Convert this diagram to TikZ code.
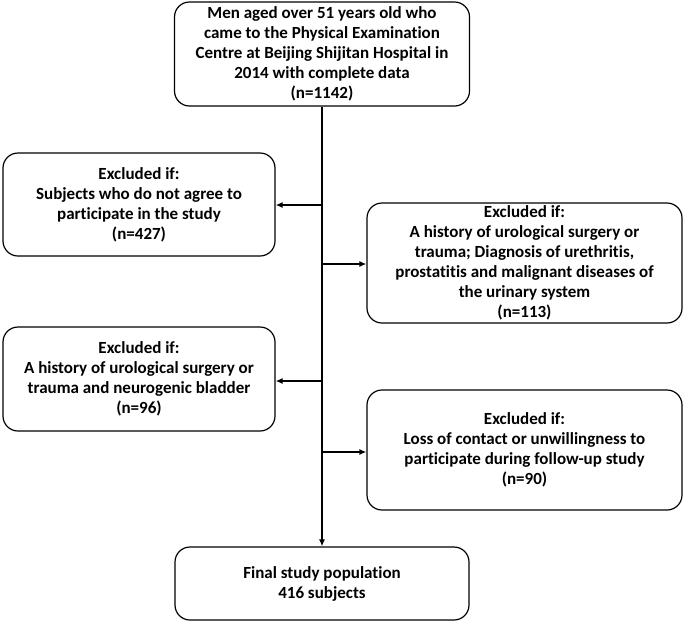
\documentclass[tikz,border=0pt]{standalone}
\usepackage{fontspec}
\setmainfont{Carlito}[Ligatures={NoCommon}]
\usetikzlibrary{arrows.meta,calc}
\begin{document}
\begin{tikzpicture}[x=1pt,y=-1pt,
  box/.style={draw=black,line width=1.2pt,rounded corners=15pt,align=center,
    font=\fontsize{17}{20}\selectfont\bfseries,inner sep=0pt},
  conn/.style={line width=1.8pt,-{Latex[length=7pt,width=6pt]}}]
\useasboundingbox (0,0) rectangle (685,625);
\node[box,minimum width=295pt,minimum height=104pt] (top) at (322,54)
  {Men aged over 51 years old who\\came to the Physical Examination\\Centre at Beijing Shijitan Hospital in\\2014 with complete data\\(n=1142)};
\node[box,minimum width=272pt,minimum height=103pt] (b1) at (139,204.5)
  {Excluded if:\\Subjects who do not agree to\\participate in the study\\(n=427)};
\node[box,minimum width=315pt,minimum height=120pt] (b2) at (524.5,263)
  {Excluded if:\\A history of urological surgery or\\trauma; Diagnosis of urethritis,\\prostatitis and malignant diseases of\\the urinary system\\(n=113)};
\node[box,minimum width=272pt,minimum height=104pt] (b3) at (139,379)
  {Excluded if:\\A history of urological surgery or\\trauma and neurogenic bladder\\(n=96)};
\node[box,minimum width=315pt,minimum height=120pt] (b4) at (524.5,450)
  {Excluded if:\\Loss of contact or unwillingness to\\participate during follow-up study\\(n=90)};
\node[box,minimum width=294pt,minimum height=73pt] (fin) at (322,583.5)
  {Final study population\\416 subjects};
\coordinate (j1) at (322,205);
\coordinate (j2) at (322,264);
\coordinate (j3) at (322,381);
\coordinate (j4) at (322,452);
\draw[conn] (top.south) -- (fin.north);
\draw[conn] (j1) -- (j1 -| b1.east);
\draw[conn] (j2) -- (j2 -| b2.west);
\draw[conn] (j3) -- (j3 -| b3.east);
\draw[conn] (j4) -- (j4 -| b4.west);
\end{tikzpicture}
\end{document}
